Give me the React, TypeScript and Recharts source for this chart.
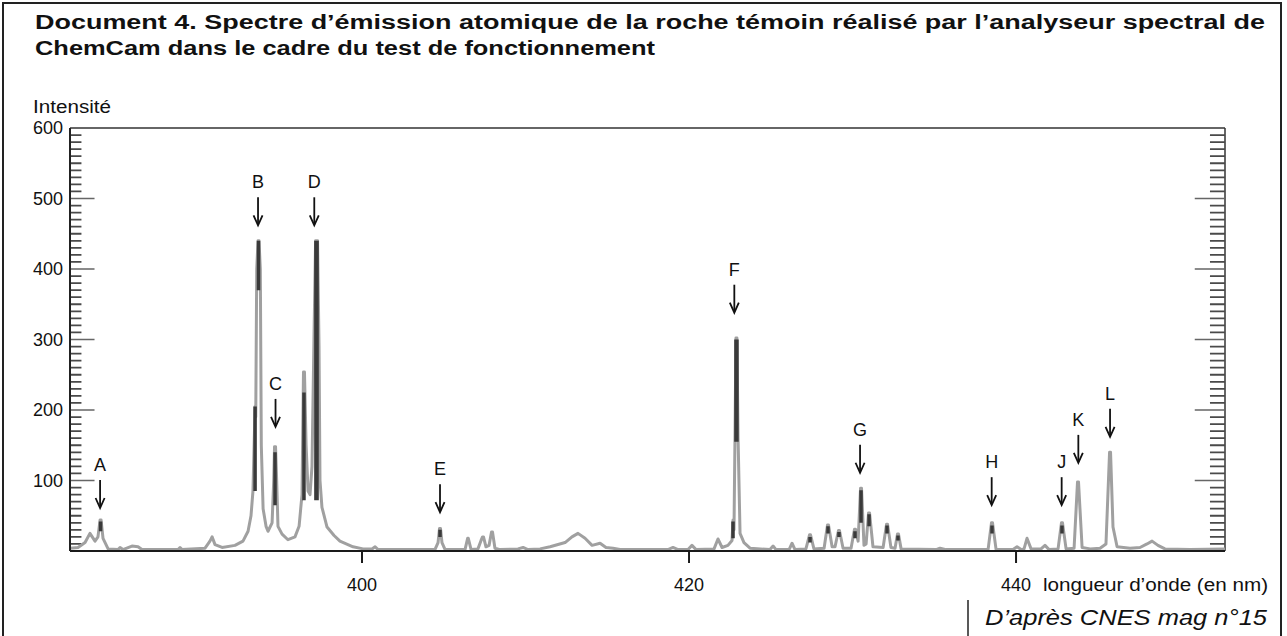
import React from "react";
import { ComposedChart, Line, Scatter, XAxis, YAxis, ReferenceLine } from "recharts";

const wavelengths = [
  382.14, 382.63, 383.06, 383.36, 383.67, 383.85, 383.98, 384.04, 384.16, 384.47,
  385.08, 385.2, 385.38, 385.93, 386.3, 386.54, 388.75, 388.87, 388.99, 390.4,
  390.7, 390.83, 391.01, 391.44, 392.23, 392.72, 393.03, 393.21, 393.33, 393.46,
  393.5, 393.56, 393.64, 393.7, 393.78, 393.84, 393.95, 394.13, 394.25, 394.5,
  394.6, 394.65, 394.71, 394.78, 394.86, 395.11, 395.47, 395.9, 396.15, 396.33,
  396.42, 396.48, 396.58, 396.7, 396.82, 396.94, 397.06, 397.16, 397.28, 397.37,
  397.43, 397.55, 397.86, 398.29, 398.65, 399.45, 400.06, 400.61, 400.8, 400.98,
  404.46, 404.65, 404.74, 404.8, 404.89, 405.08, 406.3, 406.46, 406.5, 406.67,
  407.09, 407.28, 407.37, 407.43, 407.58, 407.77, 407.92, 407.98, 408.13, 408.44,
  409.54, 409.85, 410.15, 410.89, 411.5, 412.42, 412.84, 413.21, 413.64, 414.07,
  414.56, 414.92, 415.35, 415.78, 418.71, 419.02, 419.33, 419.94, 420.18, 420.43,
  421.53, 421.77, 422.02, 422.38, 422.63, 422.69, 422.75, 422.81, 422.87, 422.93,
  423.0, 423.12, 423.36, 423.73, 424.95, 425.14, 425.32, 426.12, 426.3, 426.48,
  427.15, 427.37, 427.43, 427.64, 428.26, 428.47, 428.53, 428.75, 428.93, 429.14,
  429.2, 429.42, 429.91, 430.12, 430.18, 430.34, 430.49, 430.55, 430.7, 430.83,
  430.98, 431.04, 431.25, 431.87, 432.08, 432.14, 432.35, 432.6, 432.75, 432.81,
  432.97, 435.11, 435.35, 435.72, 438.29, 438.5, 438.56, 438.78, 439.82, 440.06,
  440.31, 440.49, 440.67, 440.92, 441.53, 441.77, 442.02, 442.57, 442.78, 442.84,
  443.06, 443.55, 443.76, 443.82, 444.04, 444.53, 445.14, 445.5, 445.72, 445.78,
  445.93, 446.18, 446.97, 447.58, 448.01, 448.32, 448.68, 449.11, 450.64, 452.78,
];
const intensities = [
  4, 5, 12, 25, 14, 20, 44, 44, 18, 3,
  2, 5, 2, 7, 6, 2, 2, 5, 2, 4,
  14, 20, 9, 5, 8, 14, 28, 50, 85, 205,
  190, 400, 440, 440, 400, 150, 60, 35, 28, 40,
  100, 148, 148, 100, 35, 24, 16, 20, 35, 80,
  254, 254, 150, 85, 80, 120, 300, 440, 440, 290,
  100, 62, 34, 22, 14, 6, 3, 3, 6, 2,
  2, 12, 32, 32, 12, 2, 2, 18, 18, 2,
  3, 15, 20, 20, 6, 8, 27, 27, 4, 2,
  3, 5, 2, 3, 6, 12, 20, 25, 18, 8,
  11, 5, 4, 2, 2, 5, 2, 2, 8, 2,
  3, 17, 5, 8, 15, 44, 30, 160, 302, 302,
  160, 25, 12, 4, 2, 7, 2, 2, 11, 2,
  3, 23, 23, 3, 4, 37, 37, 6, 6, 29,
  29, 4, 4, 31, 31, 14, 89, 89, 8, 10,
  54, 54, 6, 5, 38, 38, 5, 4, 24, 24,
  3, 2, 4, 2, 2, 40, 40, 2, 2, 6,
  2, 3, 18, 3, 3, 8, 2, 3, 40, 40,
  3, 4, 98, 98, 5, 3, 4, 10, 140, 140,
  34, 6, 4, 5, 10, 14, 8, 3, 2, 3,
];

// parties sombres des raies (trait foncé du scan)
const coreWavelengths = [
  384.01, 393.46, 393.67, 394.68, 396.45, 397.18, 397.25, 404.77, 422.69, 422.87,
  422.93, 427.4, 428.5, 429.17, 430.15, 430.52, 431.01, 432.11, 432.78, 438.53, 442.81,
];
const coreTops = [42, 205, 440, 140, 225, 440, 440, 30, 42, 300, 300, 20, 35, 27, 28, 86, 52, 36, 22, 36, 36];
const coreBottoms = [28, 85, 370, 65, 72, 72, 72, 20, 18, 155, 155, 12, 25, 20, 18, 40, 35, 25, 15, 25, 25];

// repères fléchés
const peakLabels = ["A", "B", "C", "D", "E", "F", "G", "H", "J", "K", "L"];
const peakWavelengths = [383.98, 393.64, 394.71, 397.08, 404.77, 422.77, 430.46, 438.51, 442.79, 443.81, 445.75];
const arrowTips = [61, 462, 176, 462, 55, 338, 111, 65, 65, 125, 162];

const X_MIN = 382.14;
const X_MAX = 452.78;
const xTicks = [400, 420, 440];
const yTicks = [100, 200, 300, 400, 500, 600];
// graduations de la règle (longueurs exprimées en nm sur l'axe des x)
const minorValues = [
  10, 20, 30, 40, 50, 60, 70, 80, 90, 110, 120, 130, 140, 150, 160, 170, 180, 190,
  210, 220, 230, 240, 250, 260, 270, 280, 290, 310, 320, 330, 340, 350, 360, 370, 380, 390,
  410, 420, 430, 440, 450, 460, 470, 480, 490, 510, 520, 530, 540, 550, 560, 570, 580, 590,
];
const majorValues = [100, 200, 300, 400, 500];
const leftMinorLen = 0.7;
const leftMajorLen = 1.5;
const rightMinorLen = 0.92;
const rightMajorLen = 1.85;

const FONT = "'Liberation Sans', Arial, sans-serif";
const NARROW = "'Liberation Sans Narrow', 'Arial Narrow', 'Liberation Sans', Arial, sans-serif";

const spectrum = wavelengths.map((x, i) => ({ x, y: intensities[i] }));
const cores = coreWavelengths.flatMap((x, i) => [
  { x, y: coreTops[i] },
  { x, y: coreBottoms[i] },
  { x, y: null },
]);
const arrows = peakLabels.map((label, i) => ({ x: peakWavelengths[i], y: arrowTips[i], label }));

const rulerSegments = (values: number[], leftLen: number, rightLen: number) =>
  values.flatMap((v) => [
    { x: X_MIN, y: v },
    { x: X_MIN + leftLen, y: v },
    { x: X_MIN + leftLen + 0.01, y: null },
    { x: X_MAX - rightLen, y: v },
    { x: X_MAX, y: v },
    { x: X_MAX + 0.01, y: null },
  ]);
const minorRuler = rulerSegments(minorValues, leftMinorLen, rightMinorLen);
const majorRuler = rulerSegments(majorValues, leftMajorLen, rightMajorLen);

const ArrowMark = (props: any) => {
  const { cx, cy, payload } = props;
  if (cx == null || cy == null) return null;
  return (
    <g>
      <text x={cx} y={cy - 37} textAnchor="middle" fontSize={18} fill="#111" fontFamily={FONT}>
        {payload.label}
      </text>
      <line x1={cx} y1={cy - 28} x2={cx} y2={cy - 1} stroke="#111" strokeWidth={1.8} />
      <path
        d={`M${cx - 4.5} ${cy - 10} L${cx} ${cy} L${cx + 4.5} ${cy - 10}`}
        fill="none"
        stroke="#111"
        strokeWidth={1.8}
      />
    </g>
  );
};

const XTick = (props: any) => {
  const { x, y, payload } = props;
  return (
    <g>
      <text x={x} y={y + 28} textAnchor="middle" fontSize={18} fill="#111" fontFamily={NARROW}>
        {payload.value}
      </text>
      {payload.value === 440 && (
        <text
          x={x + 27}
          y={y + 28}
          fontSize={18}
          fill="#111"
          fontFamily={NARROW}
          textLength={225}
          lengthAdjust="spacingAndGlyphs"
        >
          longueur d’onde (en nm)
        </text>
      )}
    </g>
  );
};

export default function App() {
  return (
    <div style={{ position: "absolute", left: 0, top: 0, width: 1287, height: 636, background: "#fff", overflow: "hidden" }}>
      <svg width={1287} height={636} style={{ position: "absolute", left: 0, top: 0 }}>
        <rect x={3} y={3} width={1278} height={660} fill="none" stroke="#222" strokeWidth={2} />
        <text x={35} y={29} fontSize={20} fontWeight="bold" fill="#111" fontFamily={FONT} textLength={1230} lengthAdjust="spacingAndGlyphs">
          Document 4. Spectre d’émission atomique de la roche témoin réalisé par l’analyseur spectral de
        </text>
        <text x={35} y={55} fontSize={20} fontWeight="bold" fill="#111" fontFamily={FONT} textLength={620} lengthAdjust="spacingAndGlyphs">
          ChemCam dans le cadre du test de fonctionnement
        </text>
        <text x={33} y={113} fontSize={18} fill="#111" fontFamily={FONT} textLength={78} lengthAdjust="spacingAndGlyphs">
          Intensité
        </text>
        <line x1={968} y1={600} x2={968} y2={636} stroke="#222" strokeWidth={1.5} />
        <text x={985} y={625} fontSize={22} fontStyle="italic" fill="#111" fontFamily={NARROW} textLength={282} lengthAdjust="spacingAndGlyphs">
          D’après CNES mag n°15
        </text>
      </svg>
      <div style={{ position: "absolute", left: 0, top: 0 }}>
        <ComposedChart width={1287} height={636} margin={{ top: 128, right: 62, bottom: 35, left: 10 }}>
          <XAxis
            xAxisId="x"
            type="number"
            dataKey="x"
            domain={[X_MIN, X_MAX]}
            ticks={xTicks}
            allowDataOverflow
            height={50}
            tickSize={12}
            tickMargin={0}
            axisLine={{ stroke: "#1a1a1a", strokeWidth: 2 }}
            tickLine={{ stroke: "#1a1a1a", strokeWidth: 2 }}
            tick={<XTick />}
          />
          <YAxis
            yAxisId="v"
            type="number"
            domain={[0, 600]}
            ticks={yTicks}
            interval={0}
            width={60}
            tickLine={false}
            tickSize={0}
            tickMargin={7}
            axisLine={{ stroke: "#222", strokeWidth: 2 }}
            tick={{ fontSize: 18, fill: "#111", fontFamily: FONT }}
          />
          <ReferenceLine xAxisId="x" yAxisId="v" y={600} stroke="#333" strokeWidth={1.5} />
          <ReferenceLine xAxisId="x" yAxisId="v" x={X_MAX} stroke="#333" strokeWidth={1.5} />
          <Line
            xAxisId="x"
            yAxisId="v"
            data={minorRuler}
            dataKey="y"
            type="linear"
            dot={false}
            stroke="#4a4a4a"
            strokeWidth={1.8}
            connectNulls={false}
            isAnimationActive={false}
          />
          <Line
            xAxisId="x"
            yAxisId="v"
            data={majorRuler}
            dataKey="y"
            type="linear"
            dot={false}
            stroke="#666"
            strokeWidth={1.6}
            connectNulls={false}
            isAnimationActive={false}
          />
          <Line
            xAxisId="x"
            yAxisId="v"
            data={spectrum}
            dataKey="y"
            type="linear"
            dot={false}
            stroke="#a0a0a0"
            strokeWidth={3}
            strokeLinejoin="round"
            isAnimationActive={false}
          />
          <Line
            xAxisId="x"
            yAxisId="v"
            data={cores}
            dataKey="y"
            type="linear"
            dot={false}
            stroke="#3a3a3a"
            strokeWidth={3.5}
            connectNulls={false}
            isAnimationActive={false}
          />
          <Scatter xAxisId="x" yAxisId="v" data={arrows} dataKey="y" shape={<ArrowMark />} isAnimationActive={false} />
        </ComposedChart>
      </div>
    </div>
  );
}
